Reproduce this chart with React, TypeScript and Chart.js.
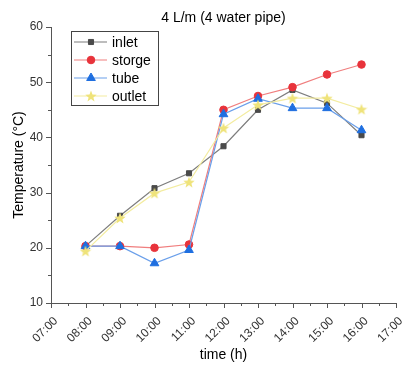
import React, { useEffect, useRef } from "react";
import { Chart, registerables } from "chart.js";
import { drawPoint } from "chart.js/helpers";

Chart.register(...registerables);

const hours = [8, 9, 10, 11, 12, 13, 14, 15, 16];
const inlet = [20.3, 25.8, 30.8, 33.5, 38.4, 45.0, 48.6, 46.2, 40.4];
const storge = [20.3, 20.3, 20.0, 20.6, 45.0, 47.5, 49.1, 51.4, 53.2];
const tube = [20.3, 20.3, 17.2, 19.6, 44.2, 47.0, 45.3, 45.3, 41.3];
const outlet = [19.4, 25.4, 29.9, 31.9, 41.7, 45.9, 47.1, 47.1, 45.1];

const xMin = 7;
const xMax = 17;
const yMin = 10;
const yMax = 60;
const titleText = "4 L/m (4 water pipe)";
const xTitle = "time (h)";
const yTitle = "Temperature (°C)";

const FONT = "Arial, 'Liberation Sans', sans-serif";

function makeStar(color: string, size: number): HTMLCanvasElement {
  const c = document.createElement("canvas");
  c.width = size;
  c.height = size;
  const g = c.getContext("2d")!;
  const cx = size / 2, cy = size / 2 + 0.6;
  const R = size / 2, r = R * 0.42;
  g.beginPath();
  for (let i = 0; i < 10; i++) {
    const a = -Math.PI / 2 + (i * Math.PI) / 5;
    const rad = i % 2 === 0 ? R : r;
    const px = cx + rad * Math.cos(a);
    const py = cy + rad * Math.sin(a);
    if (i === 0) g.moveTo(px, py);
    else g.lineTo(px, py);
  }
  g.closePath();
  g.fillStyle = color;
  g.fill();
  return c;
}

const seriesDefs = [
  { label: "inlet", data: inlet, marker: "#4a4a4a", line: "#7d7d7d", style: "rect", radius: 3.6, order: 4 },
  { label: "storge", data: storge, marker: "#e8333b", line: "#f07e7e", style: "circle", radius: 3.8, order: 3 },
  { label: "tube", data: tube, marker: "#1f6fe0", line: "#6a9fea", style: "triangle", radius: 5, order: 2 },
  { label: "outlet", data: outlet, marker: "#efe37a", line: "#f3eca0", style: "star", radius: 5.5, order: 1 },
];

const pad2 = (v: number) => (v < 10 ? "0" : "") + v + ":00";

export default function App() {
  const ref = useRef<HTMLCanvasElement | null>(null);

  useEffect(() => {
    if (!ref.current) return;
    const starImg = makeStar("#efe37a", 12);
    const styleFor = (s: any) => (s.style === "star" ? starImg : s.style);

    const datasets = seriesDefs.map((s) => ({
      label: s.label,
      data: hours.map((h, i) => ({ x: h, y: s.data[i] })),
      borderColor: s.line,
      borderWidth: 1.2,
      backgroundColor: s.marker,
      pointBackgroundColor: s.marker,
      pointBorderColor: s.marker,
      pointBorderWidth: 1,
      pointStyle: styleFor(s) as any,
      pointRadius: s.radius,
      tension: 0,
      order: s.order,
    }));

    const extras = {
      id: "extras",
      afterDraw(chart: any) {
        const ctx = chart.ctx as CanvasRenderingContext2D;
        const xs = chart.scales.x;
        const ys = chart.scales.y;
        const ca = chart.chartArea;
        ctx.save();
        // tick marks
        ctx.strokeStyle = "#555";
        ctx.lineWidth = 1;
        ctx.beginPath();
        for (let v = xMin; v <= xMax + 1e-9; v += 0.5) {
          const px = Math.round(xs.getPixelForValue(v)) + 0.5;
          const major = Math.abs(v - Math.round(v)) < 1e-6;
          ctx.moveTo(px, ca.bottom);
          ctx.lineTo(px, ca.bottom + (major ? 5 : 3));
        }
        for (let v = yMin; v <= yMax + 1e-9; v += 5) {
          const py = Math.round(ys.getPixelForValue(v)) + 0.5;
          const major = v % 10 === 0;
          ctx.moveTo(ca.left, py);
          ctx.lineTo(ca.left - (major ? 5 : 3), py);
        }
        ctx.stroke();

        // title
        ctx.fillStyle = "#000";
        ctx.font = "14px " + FONT;
        ctx.textAlign = "center";
        ctx.textBaseline = "middle";
        ctx.fillText(titleText, (ca.left + ca.right) / 2, 18);

        // legend
        const bx = 71.5, by = 31.5, bw = 87, bh = 74;
        ctx.fillStyle = "#fff";
        ctx.fillRect(bx, by, bw, bh);
        ctx.strokeStyle = "#444";
        ctx.lineWidth = 1;
        ctx.strokeRect(bx, by, bw, bh);
        seriesDefs.forEach((s, i) => {
          const yy = 42 + i * 18;
          ctx.strokeStyle = s.line;
          ctx.lineWidth = 1.2;
          ctx.beginPath();
          ctx.moveTo(74, yy);
          ctx.lineTo(107, yy);
          ctx.stroke();
          ctx.fillStyle = s.marker;
          ctx.strokeStyle = s.marker;
          ctx.lineWidth = 1;
          drawPoint(ctx, { pointStyle: styleFor(s) as any, radius: s.radius, rotation: 0, borderWidth: 1 } as any, 91, yy);
          ctx.fillStyle = "#000";
          ctx.font = "14px " + FONT;
          ctx.textAlign = "left";
          ctx.textBaseline = "middle";
          ctx.fillText(s.label, 112, yy + 1);
        });
        ctx.restore();
      },
    };

    const chart = new Chart(ref.current, {
      type: "line",
      data: { datasets },
      options: {
        animation: false,
        responsive: false,
        devicePixelRatio: 1,
        layout: { padding: { left: 0, right: 8, top: 27, bottom: 0 } },
        plugins: { legend: { display: false }, tooltip: { enabled: false }, title: { display: false } },
        scales: {
          x: {
            type: "linear",
            min: xMin,
            max: xMax,
            grid: { display: false, drawTicks: false },
            border: { display: true, color: "#555", width: 1 },
            ticks: {
              stepSize: 1,
              autoSkip: false,
              minRotation: 45,
              maxRotation: 45,
              padding: 11,
              labelOffset: 5,
              color: "#333",
              font: { size: 12, family: FONT },
              callback: (v: any) => pad2(Number(v)),
            },
            title: { display: true, text: xTitle, color: "#000", font: { size: 14, family: FONT }, padding: { top: 0, bottom: 1 } },
            afterFit: (s: any) => {
              s.height = 62;
              s.paddingLeft = 0;
              s.paddingRight = 0;
            },
          },
          y: {
            type: "linear",
            min: yMin,
            max: yMax,
            grid: { display: false, drawTicks: false },
            border: { display: true, color: "#555", width: 1 },
            ticks: {
              stepSize: 10,
              padding: 8,
              color: "#333",
              font: { size: 12, family: FONT },
            },
            title: { display: true, text: yTitle, color: "#000", font: { size: 14, family: FONT }, padding: { top: 11, bottom: 0 } },
            afterFit: (s: any) => {
              s.width = 51;
              s.paddingTop = 0;
              s.paddingBottom = 0;
            },
          },
        },
      },
      plugins: [extras],
    });
    return () => chart.destroy();
  }, []);

  return (
    <div style={{ position: "fixed", left: 0, top: 0, width: 404, height: 365, background: "#fff" }}>
      <canvas ref={ref} width={404} height={365} style={{ width: 404, height: 365, display: "block" }} />
    </div>
  );
}
